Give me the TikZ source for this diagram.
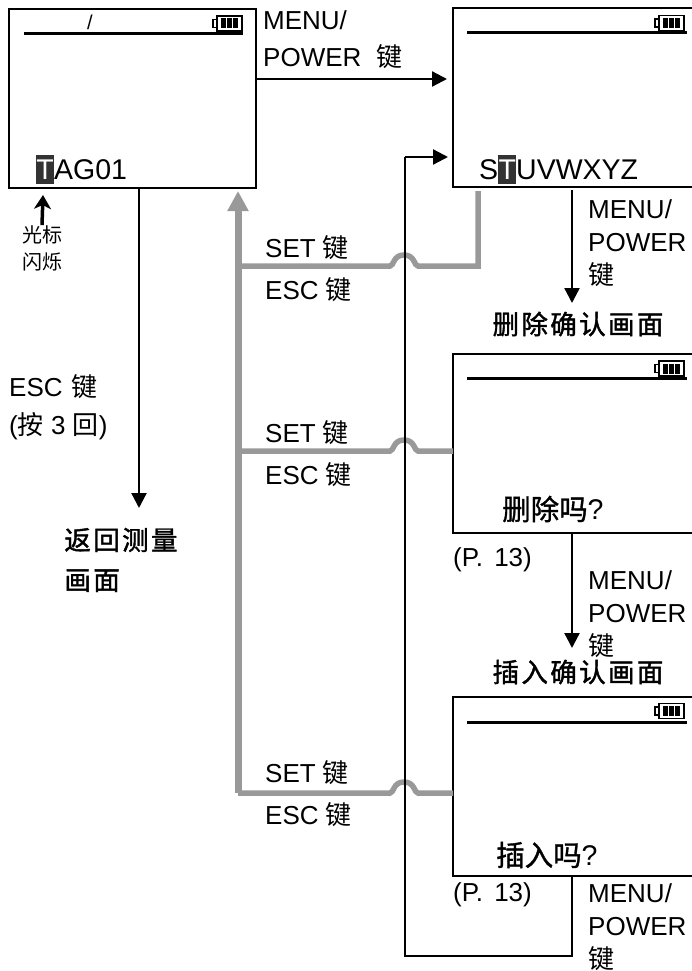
\documentclass[tikz,border=0pt]{standalone}
\usepackage{fontspec}
\setmainfont{Liberation Sans}
\newfontfamily\cjk{Noto Sans CJK SC}
\newfontfamily\cjkm[FakeBold=1.2]{Noto Sans CJK SC}
\newfontfamily\cjkt[FakeBold=1.5, LetterSpace=9]{Noto Sans CJK SC}
\usetikzlibrary{arrows.meta, positioning}

\begin{document}
\begin{tikzpicture}[
    x=1pt, y=-1pt,
    screen/.style={draw, line width=2.5pt, minimum width=#1, minimum height=179pt,
                   anchor=north west, inner sep=0pt, outer sep=0pt},
    screen/.default=262pt,
    arr/.style={-{Triangle[length=15pt, width=15pt]}, line width=2.3pt},
    wire/.style={line width=2.3pt},
    back/.style={draw=black!40, line width=5.5pt},
    lbl/.style={font=\fontsize{26}{33}\selectfont, anchor=west, inner sep=0pt, align=left},
    lcd/.style={font=\fontsize{28.5}{33}\selectfont, anchor=base west, inner sep=0pt},
    ask/.style={font=\fontsize{28.5}{33}\selectfont, anchor=west, inner sep=0pt},
    title/.style={font=\fontsize{26.5}{40}\selectfont\cjkt, inner sep=0pt, align=left},
    cursor/.style={fill=black!80, text=white, anchor=base west, inner sep=0pt,
                   minimum width=18pt, minimum height=29pt, text depth=0pt,
                   font=\fontsize{28.5}{33}\selectfont},
    hint/.style={font=\fontsize{20}{27}\selectfont\cjk, inner sep=0pt, align=center},
    battery/.pic={
        \draw[line width=1.8pt] (-11,-7.5) rectangle (14,7.5);
        \fill (-7,-5) rectangle (10,5);
        \draw[white, line width=0.8pt] (-1.5,-5) -- (-1.5,5) (4.5,-5) -- (4.5,5);
        \draw[line width=1.6pt] (-11,-4) -- (-15,-4) -- (-15,4) -- (-11,4);
    }
]
\useasboundingbox (0,0) rectangle (692,971);

% Screens
\node[screen=247pt] (tagA) at (9,9) {};
\node[screen]       (tagB) at (453,8) {};
\node[screen]       (tagC) at (453,354) {};
\node[screen]       (tagD) at (453,697) {};

% Status lines
\draw[line width=3pt] (24,33.5) -- (243,33.5);
\draw[line width=3pt] (467,33) -- (687,33);
\draw[line width=3pt] (467,378) -- (687,378);
\draw[line width=3pt] (467,722) -- (687,722);
\pic at (228,23.5) {battery};
\pic at (670,23) {battery};
\pic at (670,368.5) {battery};
\pic at (670,711) {battery};
\node[font=\fontsize{20}{20}\selectfont, inner sep=0pt] (unit) at (90,22) {/};

% Screen texts
\node[cursor] (curA) at (36,179) {T};
\node[lcd] (txtA) at (54,179) {AG01};
\node[lcd] (txtS) at (479,179) {S};
\node[cursor] (curB) at (498,179) {T};
\node[lcd] (txtB) at (516,179) {UVWXYZ};
\node[ask] (askC) at (502,509) {{\cjkm 删除吗}?};
\node[ask] (askD) at (496,855) {{\cjkm 插入吗}?};

% Titles
\node[title] (backT)  at (121,560) {返回测量\\画面};
\node[title] (titleC) at (578,324) {删除确认画面};
\node[title] (titleD) at (578,672) {插入确认画面};

% Key labels
\node[lbl] (menuA) at (263,40) {MENU/\\[4pt]POWER\hspace{8pt} {\cjk 键}};
\node[lbl] (menuB) at (588,243) {MENU/\\POWER\\{\cjk 键}};
\node[lbl] (menuC) at (588,614) {MENU/\\POWER\\{\cjk 键}};
\node[lbl] (menuD) at (588,927) {MENU/\\POWER\\{\cjk 键}};
\node[lbl] (escA)  at (9,407) {ESC\hspace{2pt} {\cjk 键}\\[5pt]({\cjk 按} 3 {\cjk 回})};
\node[lbl] (pageC) at (453,560) {(P.\hspace{4pt} 13)};
\node[lbl] (pageD) at (453,895) {(P.\hspace{4pt} 13)};
\node[lbl] (set1) at (265,248) {SET {\cjk 键}};
\node[lbl] (esc1) at (265,290) {ESC {\cjk 键}};
\node[lbl] (set2) at (265,433) {SET {\cjk 键}};
\node[lbl] (esc2) at (265,475) {ESC {\cjk 键}};
\node[lbl] (set3) at (265,773) {SET {\cjk 键}};
\node[lbl] (esc3) at (265,815) {ESC {\cjk 键}};

% Cursor hint
\node[hint] (hintA) at (42,248) {光标\\闪烁};
\draw[-{Stealth[length=14pt, width=17pt, inset=4pt]}, line width=3.5pt] (hintA.north) -- (43,195);

% Way back, grey
\coordinate (tipA) at (238,191);
\coordinate (endB) at (478,191);
\coordinate (foot) at (238,793);
\draw[back, line width=7pt, -{Triangle[length=20pt, width=20pt]}] (foot) -- (tipA);
\draw[back] (foot |- 0,266) -- (390,266) .. controls (394,266) and (393,255) .. (404,255)
      .. controls (415,255) and (414,266) .. (418,266) -- (endB |- 0,266) -- (endB);
\draw[back] (foot |- 0,451) -- (390,451) .. controls (394,451) and (393,440) .. (404,440)
      .. controls (415,440) and (414,451) .. (418,451) -- (tagC.west |- 0,451);
\draw[back] (foot) -- (390,793) .. controls (394,793) and (393,782) .. (404,782)
      .. controls (415,782) and (414,793) .. (418,793) -- (tagD.west |- 0,793);

% Forward steps
\draw[arr] (tagA.east |- 0,79) -- (447,79);
\draw[arr] (tagA.south -| 139,0) -- (139,508);
\draw[arr] (572,190) -- (572,303);
\draw[arr] (tagC.south -| 572,0) -- (572,648);

% Last step, round to the second screen
\coordinate (lastB) at (405,956);
\draw[wire] (tagD.south -| 572,0) -- (572,956) -- (lastB) -- (405,157);
\draw[arr] (405,157) -- (448,157);
\end{tikzpicture}
\end{document}
